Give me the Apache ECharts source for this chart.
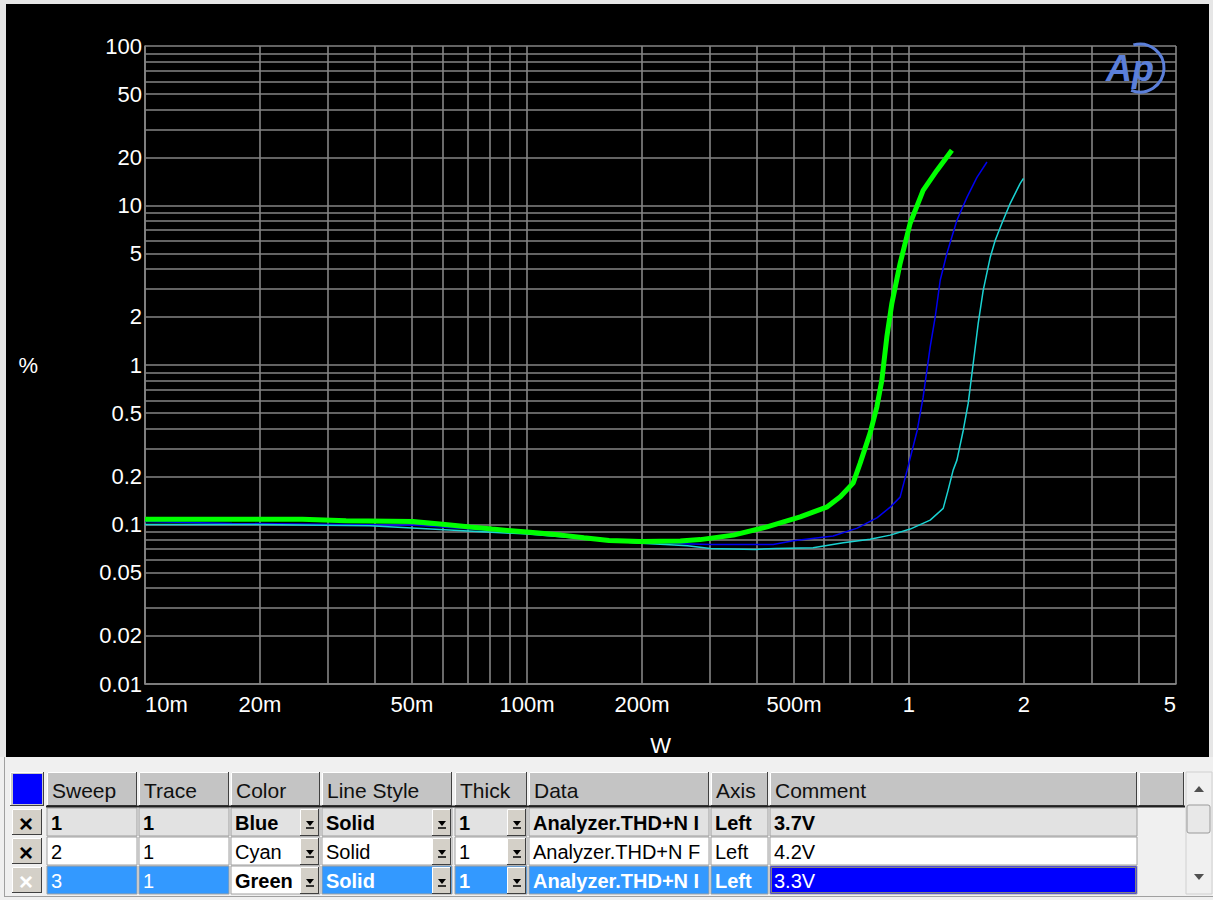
<!DOCTYPE html>
<html>
<head>
<meta charset="utf-8">
<title>THD+N vs output power</title>
<script src="https://cdn.jsdelivr.net/npm/echarts@6.0.0/dist/echarts.min.js"></script>
<style>
html, body { margin: 0; padding: 0; background: #000; }
#chart { width: 1213px; height: 900px; }
</style>
</head>
<body>
<div id="chart"></div>
<script>
// axis ticks / labels
const xTickValues = [0.01, 0.02, 0.05, 0.1, 0.2, 0.5, 1, 2, 5];
const xTickLabels = ['10m', '20m', '50m', '100m', '200m', '500m', '1', '2', '5'];
const yTickValues = [0.01, 0.02, 0.05, 0.1, 0.2, 0.5, 1, 2, 5, 10, 20, 50, 100];
const yTickLabels = ['0.01', '0.02', '0.05', '0.1', '0.2', '0.5', '1', '2', '5', '10', '20', '50', '100'];
const xGridValues = [0.01, 0.02, 0.03, 0.04, 0.05, 0.06, 0.07, 0.08, 0.09,
  0.1, 0.2, 0.3, 0.4, 0.5, 0.6, 0.7, 0.8, 0.9, 1, 2, 3, 4, 5];
const yGridValues = [0.01, 0.02, 0.03, 0.04, 0.05, 0.06, 0.07, 0.08, 0.09,
  0.1, 0.2, 0.3, 0.4, 0.5, 0.6, 0.7, 0.8, 0.9,
  1, 2, 3, 4, 5, 6, 7, 8, 9, 10, 20, 30, 40, 50, 60, 70, 80, 90, 100];

// sweep 1 - 3.7V (blue)
const blueW = [0.01, 0.0169, 0.0503, 0.1, 0.198, 0.302, 0.441, 0.498, 0.633, 0.732, 0.826, 0.893,
  0.948, 0.989, 1.051, 1.089, 1.136, 1.171, 1.207, 1.257, 1.335, 1.418, 1.506, 1.6];
const blueTHD = [0.1043, 0.1016, 0.0991, 0.0884, 0.077, 0.075, 0.075, 0.0791, 0.0846, 0.0949, 0.1105, 0.1285,
  0.1485, 0.2192, 0.39, 0.628, 1.293, 1.993, 3.4, 5.02, 8.08, 11.25, 15.02, 18.74];

// sweep 2 - 4.2V (cyan)
const cyanW = [0.01, 0.01965, 0.0388, 0.1, 0.198, 0.23, 0.263, 0.302, 0.396, 0.447, 0.561, 0.673, 0.791,
  0.893, 1.007, 1.136, 1.229, 1.266, 1.305, 1.335, 1.387, 1.429, 1.473, 1.518, 1.564, 1.632, 1.682,
  1.751, 1.841, 1.955, 1.994];
const cyanTHD = [0.1001, 0.1001, 0.0981, 0.0871, 0.0764, 0.075, 0.0735, 0.0708, 0.0698, 0.0708, 0.0715, 0.0768, 0.0807,
  0.0858, 0.0936, 0.1066, 0.1262, 0.1643, 0.2192, 0.2533, 0.39, 0.576, 1.026, 1.828, 2.94, 4.74, 6.05,
  7.74, 10.32, 13.77, 14.81];

// sweep 3 - 3.3V (green)
const greenW = [0.01, 0.0258, 0.0336, 0.0503, 0.061, 0.071, 0.081, 0.1, 0.123, 0.141, 0.164, 0.198, 0.252,
  0.284, 0.347, 0.425, 0.519, 0.611, 0.661, 0.714, 0.745, 0.791, 0.824, 0.849, 0.875, 0.902, 0.948,
  1.007, 1.089, 1.183, 1.295];
const greenTHD = [0.108, 0.108, 0.1055, 0.1043, 0.1, 0.0963, 0.0936, 0.0896, 0.0858, 0.0825, 0.0793, 0.0781, 0.0788,
  0.0804, 0.0858, 0.0967, 0.1117, 0.1291, 0.1491, 0.1817, 0.2425, 0.374, 0.547, 0.803, 1.5, 2.44, 4.34,
  7.74, 12.45, 16.6, 22.2];

// sweep table below the graph
const tableHeaders = ['Sweep', 'Trace', 'Color', 'Line Style', 'Thick', 'Data', 'Axis', 'Comment', ''];
const sweepCol = ['1', '2', '3'];
const traceCol = ['1', '1', '1'];
const colorCol = ['Blue', 'Cyan', 'Green'];
const lineStyleCol = ['Solid', 'Solid', 'Solid'];
const thickCol = ['1', '1', '1'];
const dataCol = ['Analyzer.THD+N I', 'Analyzer.THD+N F', 'Analyzer.THD+N I'];
const axisCol = ['Left', 'Left', 'Left'];
const commentCol = ['3.7V', '4.2V', '3.3V'];

const FONT = 'Arial, "Liberation Sans", sans-serif';
const gridColor = '#858585';

function tickLabel(v, values, labels) {
  let best = 0;
  values.forEach((t, i) => {
    if (Math.abs(Math.log10(t) - Math.log10(v)) < Math.abs(Math.log10(values[best]) - Math.log10(v))) best = i;
  });
  return labels[best];
}

// ---- table graphics ----
const colX = [47, 139, 231, 322, 455, 529, 711, 770, 1139];
const colW = [90, 90, 89, 130, 72, 180, 57, 367, 45];
const dropCols = [2, 3, 4];
const headY = 772, headH = 34;
const rowY = [808, 837, 866], rowH = 28;

const g = [];
function box(x, y, w, h, fill, stroke, z) {
  g.push({ type: 'rect', shape: { x: x, y: y, width: w, height: h }, z: z || 1,
    style: { fill: fill, stroke: stroke || null, lineWidth: 1 } });
}
function line(x1, y1, x2, y2, color, w) {
  g.push({ type: 'line', shape: { x1: x1, y1: y1, x2: x2, y2: y2 }, z: 3,
    style: { stroke: color, lineWidth: w || 1 } });
}
function label(x, y, s, color, bold, size) {
  g.push({ type: 'text', x: x, y: y, z: 5,
    style: { text: s, fill: color, font: (bold ? 'bold ' : '') + (size || 20) + 'px ' + FONT, verticalAlign: 'middle' } });
}
function bevel(x, y, w, h, fill) {
  box(x, y, w, h, fill);
  line(x + 0.5, y + 0.5, x + w - 0.5, y + 0.5, '#ffffff');
  line(x + 0.5, y + 0.5, x + 0.5, y + h - 0.5, '#ffffff');
  line(x, y + h - 0.5, x + w, y + h - 0.5, '#404040');
  line(x + w - 0.5, y, x + w - 0.5, y + h, '#404040');
}
function dropButton(x, y, h) {
  bevel(x, y, 19, h, '#d4d0c8');
  g.push({ type: 'polygon', z: 6, shape: { points: [[x + 6, y + 12], [x + 14, y + 12], [x + 10, y + 17]] },
    style: { fill: '#000' } });
  line(x + 6, y + 19, x + 14, y + 19, '#000', 1.5);
}

// panel + frame
box(0, 757, 1213, 143, '#f0f0f0', null, 0);
box(0, 0, 1213, 4, '#e6e6e6', null, 0);
box(0, 0, 6, 757, '#e6e6e6', null, 0);
box(1209, 0, 4, 757, '#e6e6e6', null, 0);
line(4.5, 757, 4.5, 897, '#a0a0a0');
line(4, 896.5, 1213, 896.5, '#a0a0a0');

// header
bevel(10, headY, 34, headH, '#c8c8c8');
box(13, headY + 2, 29, headH - 4, '#0000ff');
tableHeaders.forEach((h, i) => {
  bevel(colX[i], headY, colW[i], headH, '#c4c4c4');
  if (h) label(colX[i] + 5, headY + headH / 2 + 1, h, '#101010', false, 21);
});
line(46, headY + headH + 0.5, 1185, headY + headH + 0.5, '#202020', 2);

// rows
const rowBg = ['#e2e2e2', '#ffffff', '#3399ff'];
const rows = [sweepCol, traceCol, colorCol, lineStyleCol, thickCol, dataCol, axisCol, commentCol];
rowY.forEach((y, r) => {
  bevel(12, y + 1, 30, rowH - 2, '#d4d0c8');
  label(19, y + rowH / 2 + 1, '\u00d7', r === 2 ? '#ffffff' : '#000000', true, 24);
  rows.forEach((col, c) => {
    let bg = rowBg[r];
    let fg = r === 2 ? '#ffffff' : '#000000';
    let bold = r !== 1;
    if (r === 2 && c === 2) { bg = '#ffffff'; fg = '#000000'; }
    if (r === 2 && c === 7) { bg = '#0000ff'; }
    if (r === 2 && c < 2) bold = false;
    if (r === 2 && c === 7) bold = false;
    box(colX[c], y, colW[c], rowH, bg, '#a0a0a0');
    if (r === 2 && c === 7) {
      g.push({ type: 'rect', z: 4, shape: { x: colX[c] + 1.5, y: y + 1.5, width: colW[c] - 3, height: rowH - 3 },
        style: { fill: null, stroke: '#ffff00', lineWidth: 1, lineDash: [1, 1] } });
    }
    label(colX[c] + 4, y + rowH / 2 + 1, col[r], fg, bold, 20);
    if (dropCols.indexOf(c) >= 0) dropButton(colX[c] + colW[c] - 20, y + 1, rowH - 1);
  });
  box(colX[8], y, colW[8], rowH, '#f0f0f0');
});

// scrollbar
box(1186, headY, 26, 122, '#f0f0f0', '#d0d0d0');
g.push({ type: 'polygon', z: 6, shape: { points: [[1194, 792], [1204, 792], [1199, 786]] }, style: { fill: '#505050' } });
g.push({ type: 'polygon', z: 6, shape: { points: [[1194, 874], [1204, 874], [1199, 880]] }, style: { fill: '#505050' } });
g.push({ type: 'rect', z: 6, shape: { x: 1187, y: 805, width: 23, height: 28, r: 2 },
  style: { fill: '#e8e8e8', stroke: '#9a9a9a', lineWidth: 1 } });

// Ap logo
g.push({ type: 'text', x: 1106, y: 50, z: 20,
  style: { text: 'Ap', fill: '#5b7fd9', font: 'italic bold 36px ' + FONT } });
g.push({ type: 'arc', z: 20, shape: { cx: 1140, cy: 68, r: 24, startAngle: -1.85, endAngle: 1.95 },
  style: { stroke: '#5b7fd9', lineWidth: 3, fill: null } });

const chart = echarts.init(document.getElementById('chart'), null, { renderer: 'svg' });

chart.setOption({
  backgroundColor: '#000',
  animation: false,
  grid: { left: 145, right: 37, top: 46, bottom: 216, containLabel: false },
  xAxis: {
    type: 'log', logBase: 10, min: 0.01, max: 5,
    name: 'W', nameLocation: 'middle', nameGap: 50,
    nameTextStyle: { color: '#ffffff', fontSize: 22, fontFamily: FONT },
    axisLine: { show: true, onZero: false, lineStyle: { color: gridColor, width: 1.6 } },
    axisTick: { show: false, customValues: xGridValues },
    axisLabel: {
      customValues: xTickValues, color: '#ffffff', fontSize: 22, fontFamily: FONT, margin: 9,
      alignMinLabel: 'left', alignMaxLabel: 'right',
      formatter: v => tickLabel(v, xTickValues, xTickLabels)
    },
    splitLine: { show: true, lineStyle: { color: gridColor, width: 1.6 } }
  },
  yAxis: {
    type: 'log', logBase: 10, min: 0.01, max: 100,
    name: '%', nameLocation: 'middle', nameGap: 107, nameRotate: 0,
    nameTextStyle: { color: '#ffffff', fontSize: 22, fontFamily: FONT },
    axisLine: { show: true, onZero: false, lineStyle: { color: gridColor, width: 1.6 } },
    axisTick: { show: false, customValues: yGridValues },
    axisLabel: {
      customValues: yTickValues, color: '#ffffff', fontSize: 22, fontFamily: FONT, margin: 3,
      formatter: v => tickLabel(v, yTickValues, yTickLabels)
    },
    splitLine: { show: true, lineStyle: { color: gridColor, width: 1.6 } }
  },
  graphic: g,
  series: [
    { name: '3.7V', type: 'line', data: blueW.map((w, i) => [w, blueTHD[i]]), symbol: 'none',
      lineStyle: { color: '#0000f0', width: 1.5 } },
    { name: '4.2V', type: 'line', data: cyanW.map((w, i) => [w, cyanTHD[i]]), symbol: 'none',
      lineStyle: { color: '#1ad2d2', width: 1.5 } },
    { name: '3.3V', type: 'line', data: greenW.map((w, i) => [w, greenTHD[i]]), symbol: 'none',
      lineStyle: { color: '#00ff00', width: 5 } }
  ]
});
</script>
</body>
</html>
